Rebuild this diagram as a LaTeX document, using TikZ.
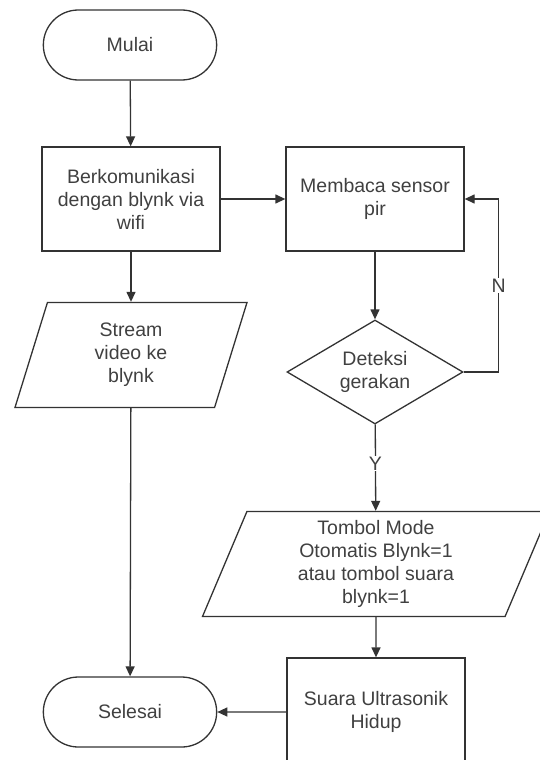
\documentclass[tikz,border=0pt]{standalone}
\usepackage{fontspec}
\setmainfont{Liberation Sans}
\usetikzlibrary{shapes.geometric, shapes.misc, arrows.meta, positioning}

\begin{document}
\begin{tikzpicture}[x=1pt, y=-1pt, line width=1.3pt, draw=black!80,
	every node/.style={text=black!75, align=center, font=\fontsize{19.5}{23}\selectfont},
	terminal/.style={draw, rounded rectangle, minimum width=180pt, minimum height=70pt},
	prozess/.style={draw, rectangle, minimum width=178pt, minimum height=104pt},
	eingabe/.style={draw, trapezium, trapezium left angle=63, trapezium right angle=117,
		trapezium stretches body, minimum height=105pt, inner sep=0pt},
	frage/.style={draw, diamond, aspect=1.7, minimum width=176pt, minimum height=104pt, inner sep=0pt},
	fluss/.style={-{Triangle[length=10pt, width=9pt]}}]
	\useasboundingbox (0,0) rectangle (540,760);
	\clip (0,0) rectangle (540,760);
	\node at (130,45) [terminal] (mulai) {Mulai};
	\node at (131,199) [prozess] (komunikasi) {Berkomunikasi\\dengan blynk via\\wifi};
	\node at (131,355) [eingabe, minimum width=232pt] (stream) {Stream\\video ke\\blynk};
	\node at (130,712) [terminal] (selesai) {Selesai};
	\node at (375,199) [prozess] (sensor) {Membaca sensor\\pir};
	\node at (375,372) [frage] (deteksi) {Deteksi\\gerakan};
	\node at (376,564) [eingabe, minimum width=347pt] (tombol) {Tombol Mode\\Otomatis Blynk=1\\atau tombol suara\\blynk=1};
	\node at (376,712) [prozess, minimum height=108pt] (suara) {Suara Ultrasonik\\Hidup};
	% Verbindungen
	\draw[fluss] (mulai) -- (komunikasi);
	\draw[fluss] (komunikasi) -- (stream);
	\draw[fluss] (komunikasi) -- (sensor);
	\draw[fluss] (sensor) -- (deteksi);
	\draw[fluss] (deteksi.east) -- ++(35,0) |- (sensor.east) node[pos=0.25, fill=white, inner sep=1pt] {N};
	\draw[fluss] (deteksi) -- (tombol) node[pos=0.45, fill=white, inner sep=1pt] {Y};
	\draw[fluss] (tombol) -- (suara);
	\draw[fluss] (stream) -- (selesai);
	\draw[fluss] (suara) -- (selesai);
\end{tikzpicture}
\end{document}
